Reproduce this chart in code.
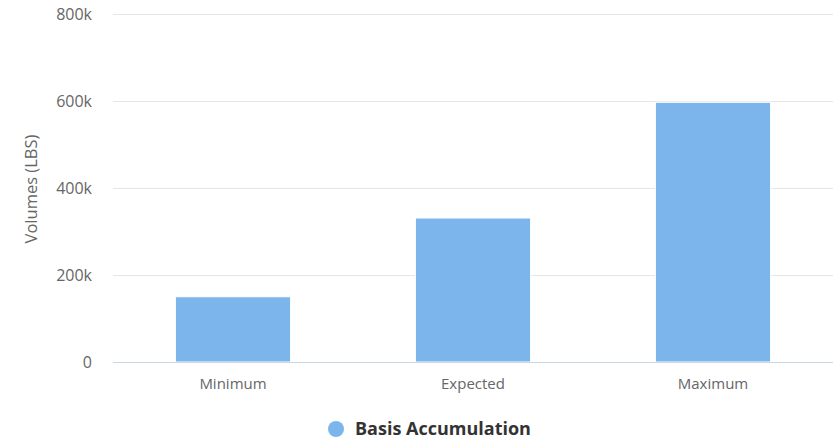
<!DOCTYPE html>
<html>
<head>
<meta charset="utf-8">
<script src="https://cdn.jsdelivr.net/npm/d3@7"></script>
<style>
  body { margin: 0; background: #fff; }
  text { font-family: "Open Sans", sans-serif; }
</style>
</head>
<body>
<div id="chart"></div>
<script>
const categories = ["Minimum", "Expected", "Maximum"];
const values = [150000, 331000, 597000];
const yTicks = [0, 200000, 400000, 600000, 800000];
const seriesName = "Basis Accumulation";
const axisTitle = "Volumes (LBS)";

const width = 835;
const height = 442;
const plot = { left: 113, right: 833, top: 14, bottom: 362 };

const svg = d3
  .select("#chart")
  .append("svg")
  .attr("width", width)
  .attr("height", height)
  .style("background", "#fff");

const xScale = d3
  .scaleBand()
  .domain(categories)
  .range([plot.left, plot.right]);

const yScale = d3
  .scaleLinear()
  .domain([0, 800000])
  .range([plot.bottom, plot.top]);

// gridlines
svg
  .append("g")
  .selectAll("line")
  .data(yTicks.slice(1))
  .enter()
  .append("line")
  .attr("x1", plot.left)
  .attr("x2", plot.right)
  .attr("y1", (d) => Math.round(yScale(d)) + 0.5)
  .attr("y2", (d) => Math.round(yScale(d)) + 0.5)
  .attr("stroke", "#e6e6e6")
  .attr("stroke-width", 1);

// y tick labels
svg
  .append("g")
  .selectAll("text")
  .data(yTicks)
  .enter()
  .append("text")
  .attr("x", 92)
  .attr("y", (d) => yScale(d) + 5.5)
  .attr("text-anchor", "end")
  .attr("font-size", 16)
  .attr("fill", "#666666")
  .text((d) => (d === 0 ? "0" : d / 1000 + "k"));

// y axis title
svg
  .append("text")
  .attr("transform", `translate(37, ${(plot.top + plot.bottom) / 2 + 1}) rotate(-90)`)
  .attr("text-anchor", "middle")
  .attr("font-size", 16.5)
  .attr("fill", "#666666")
  .text(axisTitle);

// bars
const groupPad = 0.2;
const pointPad = 0.1;
const band = xScale.bandwidth();
const barW = band * (1 - 2 * groupPad) * (1 - 2 * pointPad);

svg
  .append("g")
  .selectAll("rect")
  .data(values)
  .enter()
  .append("rect")
  .attr("x", (d, i) => xScale(categories[i]) + (band - barW) / 2)
  .attr("y", (d) => yScale(d))
  .attr("width", barW)
  .attr("height", (d) => plot.bottom - yScale(d))
  .attr("fill", "#7cb5ec")
  .attr("stroke", "#ffffff")
  .attr("stroke-width", 1);

// x axis line
svg
  .append("line")
  .attr("x1", plot.left)
  .attr("x2", plot.right)
  .attr("y1", plot.bottom + 0.5)
  .attr("y2", plot.bottom + 0.5)
  .attr("stroke", "#ccd6eb");

// x labels
svg
  .append("g")
  .selectAll("text")
  .data(categories)
  .enter()
  .append("text")
  .attr("x", (d) => xScale(d) + band / 2)
  .attr("y", 389)
  .attr("text-anchor", "middle")
  .attr("font-size", 15)
  .attr("fill", "#666666")
  .text((d) => d);

// legend
const legend = svg.append("g").attr("transform", "translate(336, 429)");
legend
  .append("circle")
  .attr("cx", 0)
  .attr("cy", 0)
  .attr("r", 8)
  .attr("fill", "#7cb5ec");
legend
  .append("text")
  .attr("x", 19)
  .attr("y", 6)
  .attr("font-size", 18)
  .attr("font-weight", "bold")
  .attr("fill", "#333333")
  .text(seriesName);
</script>
</body>
</html>
